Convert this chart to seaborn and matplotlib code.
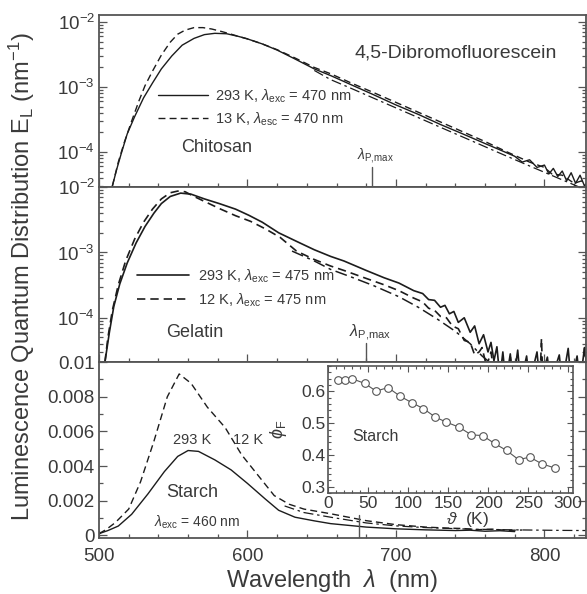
import numpy as np
import matplotlib
matplotlib.use("Agg")
import matplotlib.pyplot as plt
import matplotlib.ticker as mticker
import seaborn as sns

# ---------------- data ----------------
# Chitosan (log panel, top)
chit_293_wl = [509, 512, 515, 519, 524, 530, 536, 542, 549, 556, 564, 571, 578, 586, 594, 600,
               610, 620, 632, 645, 656, 670, 685, 700, 715, 730, 745, 760, 770, 780, 785, 790,
               795, 800, 803, 806, 809, 812, 815, 818, 821, 824, 827, 830]
chit_293_E = [3.0e-5, 5.5e-5, 9.5e-5, 1.9e-4, 3.5e-4, 6.8e-4, 1.15e-3, 1.9e-3, 3.0e-3, 4.4e-3,
              5.6e-3, 6.4e-3, 6.7e-3, 6.6e-3, 6.0e-3, 5.5e-3, 4.6e-3, 3.7e-3, 2.7e-3, 1.9e-3,
              1.5e-3, 1.08e-3, 7.6e-4, 5.3e-4, 3.8e-4, 2.65e-4, 1.9e-4, 1.35e-4, 1.08e-4, 8.6e-5,
              7.0e-5, 7.6e-5, 5.8e-5, 6.3e-5, 4.6e-5, 5.6e-5, 4.2e-5, 5.1e-5, 3.6e-5, 4.8e-5,
              3.3e-5, 4.4e-5, 3.0e-5, 3.8e-5]
chit_13_wl = [509, 513, 517, 522, 527, 531, 536, 542, 548, 553, 558, 564, 570, 576, 582, 588,
              594, 600, 610, 620, 632, 645, 656, 670, 685, 700, 715, 730, 745, 760, 775, 790,
              800, 805, 812, 820, 825, 830]
chit_13_E = [3.0e-5, 7.0e-5, 1.4e-4, 3.0e-4, 6.2e-4, 1.05e-3, 1.75e-3, 3.1e-3, 4.9e-3, 6.5e-3,
             7.5e-3, 8.2e-3, 8.2e-3, 7.8e-3, 7.2e-3, 6.6e-3, 6.0e-3, 5.5e-3, 4.6e-3, 3.75e-3,
             2.8e-3, 2.0e-3, 1.6e-3, 1.15e-3, 8.2e-4, 5.8e-4, 4.1e-4, 2.9e-4, 2.05e-4, 1.45e-4,
             1.0e-4, 7.0e-5, 5.8e-5, 4.6e-5, 4.4e-5, 3.3e-5, 3.6e-5, 2.8e-5]
chit_fit_wl = [645, 656, 670, 690, 710, 730, 750, 770, 790, 810, 830]
chit_fit_E = [1.8e-3, 1.3e-3, 9.5e-4, 6.0e-4, 3.8e-4, 2.4e-4, 1.52e-4, 9.6e-5, 6.1e-5, 3.9e-5, 2.5e-5]

# Gelatin (log panel, middle)
gel_293_wl = [504, 507, 510, 514, 519, 525, 531, 537, 542, 548, 555, 562, 571, 581, 592, 601,
              610, 621, 633, 645, 656, 665, 680, 692, 702, 712, 718, 722, 726, 730, 733, 736,
              739, 742, 746, 750, 753, 756, 759, 762, 764, 766, 768, 770, 772, 774, 777, 779,
              782, 784, 788, 790, 795, 797, 802, 804, 810, 812, 816, 818, 822, 824, 827, 829]
gel_293_E = [2.1e-5, 6.0e-5, 1.5e-4, 3.3e-4, 6.9e-4, 1.4e-3, 2.5e-3, 4.0e-3, 5.6e-3, 7.2e-3,
             8.1e-3, 7.8e-3, 6.6e-3, 5.6e-3, 4.6e-3, 3.7e-3, 2.9e-3, 2.0e-3, 1.48e-3, 1.1e-3,
             8.7e-4, 7.4e-4, 5.3e-4, 4.1e-4, 3.4e-4, 2.6e-4, 2.35e-4, 1.9e-4, 1.85e-4, 1.45e-4,
             1.55e-4, 1.15e-4, 1.25e-4, 8.5e-5, 1.0e-4, 6.0e-5, 7.5e-5, 4.0e-5, 5.5e-5, 3.0e-5,
             4.2e-5, 2.2e-5, 3.6e-5, 1.2e-5, 3.0e-5, 1.0e-5, 2.8e-5, 1.0e-5, 3.2e-5, 1.0e-5,
             2.6e-5, 1.0e-5, 3.0e-5, 1.0e-5, 2.5e-5, 1.0e-5, 2.7e-5, 1.0e-5, 3.4e-5, 1.0e-5,
             2.6e-5, 1.0e-5, 3.5e-5, 1.5e-5]
gel_12_wl = [504, 506, 509, 513, 518, 524, 530, 536, 542, 548, 553, 558, 564, 572, 582, 592,
             602, 612, 622, 633, 645, 656, 665, 680, 692, 702, 712, 718, 722, 726, 730, 734,
             738, 742, 746, 750, 753, 756, 758, 761, 764, 767, 775, 777, 779, 797, 798, 799,
             826, 827, 829]
gel_12_E = [2.1e-5, 5.0e-5, 1.3e-4, 3.2e-4, 7.5e-4, 1.6e-3, 2.9e-3, 4.6e-3, 6.6e-3, 8.2e-3,
            8.7e-3, 8.5e-3, 7.2e-3, 5.9e-3, 4.6e-3, 3.65e-3, 3.0e-3, 2.3e-3, 1.7e-3, 1.05e-3,
            7.8e-4, 6.2e-4, 5.3e-4, 4.0e-4, 3.2e-4, 2.6e-4, 2.0e-4, 1.75e-4, 1.4e-4, 1.3e-4,
            1.05e-4, 1.0e-4, 7.5e-5, 6.8e-5, 4.5e-5, 4.2e-5, 2.7e-5, 3.0e-5, 3.5e-5, 1.8e-5,
            3.0e-5, 1.0e-5, 1.0e-5, 2.5e-5, 1.0e-5, 1.0e-5, 4.8e-5, 1.0e-5, 1.0e-5, 3.8e-5,
            1.0e-5]
gel_fit_wl = [630, 645, 656, 670, 685, 702, 715, 728, 740, 750, 758, 764]
gel_fit_E = [1.05e-3, 7.4e-4, 5.5e-4, 4.2e-4, 3.1e-4, 2.1e-4, 1.45e-4, 9.5e-5, 6.2e-5, 4.0e-5,
             2.6e-5, 2.0e-5]

# Starch (linear panel, bottom)
st_293_wl = [500, 506, 513, 522, 533, 544, 553, 560, 567, 578, 589, 600, 612, 621, 632, 645,
             656, 680, 700, 720, 740, 750, 760, 770, 780]
st_293_E = [0.0001, 0.00028, 0.00054, 0.00122, 0.0024, 0.00368, 0.00456, 0.0049, 0.00485,
            0.00436, 0.00378, 0.0030, 0.0021, 0.00145, 0.00105, 0.00084, 0.00068, 0.00048,
            0.00038, 0.00032, 0.00028, 0.00030, 0.00024, 0.00027, 0.00022]
st_12_wl = [500, 505, 511, 520, 528, 537, 546, 554, 562, 573, 585, 596, 607, 618, 628, 638,
            656, 680, 700, 720, 735, 745, 755, 765, 775, 785]
st_12_E = [0.0001, 0.00035, 0.00074, 0.00152, 0.0031, 0.00544, 0.0080, 0.00932, 0.00878,
           0.0074, 0.00622, 0.00466, 0.00348, 0.0023, 0.0018, 0.00152, 0.00125, 0.00085,
           0.00062, 0.00048, 0.00042, 0.00040, 0.00033, 0.00036, 0.00029, 0.00031]
st_fit_wl = [625, 638, 656, 680, 700, 720, 750, 780, 810, 830]
st_fit_E = [0.0017, 0.00132, 0.00105, 0.00072, 0.00055, 0.00045, 0.00036, 0.00032, 0.00029, 0.00028]

# inset: fluorescence quantum yield of starch film vs temperature
inset_T = [13, 21, 30, 46, 60, 75, 90, 105, 119, 134, 148, 164, 179, 193, 208, 223, 238, 252,
           267, 283]
inset_phi = [0.636, 0.635, 0.640, 0.625, 0.601, 0.612, 0.585, 0.564, 0.546, 0.519, 0.503,
             0.487, 0.463, 0.461, 0.436, 0.414, 0.385, 0.393, 0.372, 0.359]

# positions of the phosphorescence maximum markers (nm)
lam_p_max = [684, 680, 675]

# ---------------- style ----------------
sns.set_theme(style="ticks")
plt.rcParams["font.family"] = ["Liberation Sans", "DejaVu Sans"]
plt.rcParams["mathtext.fontset"] = "custom"
plt.rcParams["mathtext.rm"] = "Liberation Sans"
plt.rcParams["mathtext.it"] = "Liberation Sans:italic"
plt.rcParams["mathtext.bf"] = "Liberation Sans:bold"

TXT = "#3a3a3a"
LN = "#1c1c1c"
SP = "#555555"
plt.rcParams["text.color"] = TXT
plt.rcParams["axes.labelcolor"] = TXT
plt.rcParams["xtick.color"] = SP
plt.rcParams["ytick.color"] = SP
plt.rcParams["xtick.labelcolor"] = TXT
plt.rcParams["ytick.labelcolor"] = TXT

W, H = 587, 594
fig = plt.figure(figsize=(W / 100, H / 100), dpi=100)
x0, x1 = 99, 586
ax1 = fig.add_axes([x0 / W, 1 - 187 / H, (x1 - x0) / W, 172 / H])
ax2 = fig.add_axes([x0 / W, 1 - 362 / H, (x1 - x0) / W, 175 / H])
ax3 = fig.add_axes([x0 / W, 1 - 538 / H, (x1 - x0) / W, 176 / H])
axin = fig.add_axes([328 / W, 1 - 493 / H, 245 / W, 127 / H])

DASH = (5, 3)
DASHDOT = (8, 3, 2, 3)


def spectra(ax, wl_a, E_a, lab_a, wl_b, E_b, lab_b, wl_c, E_c, lw=1.0):
    sns.lineplot(x=wl_a, y=E_a, ax=ax, color=LN, lw=lw, label=lab_a, sort=False)
    sns.lineplot(x=wl_b, y=E_b, ax=ax, color=LN, lw=lw, label=lab_b, sort=False,
                 dashes=False).lines[-1].set_dashes(DASH)
    sns.lineplot(x=wl_c, y=E_c, ax=ax, color=LN, lw=lw * 0.9, sort=False).lines[-1].set_dashes(DASHDOT)


def style_axis(ax):
    for s in ax.spines.values():
        s.set_color(SP)
        s.set_linewidth(1.3)
    ax.tick_params(which="both", direction="in", right=True, top=False, width=0.9,
                   labelsize=13.5, pad=3)
    ax.tick_params(which="major", length=6)
    ax.tick_params(which="minor", length=3)
    ax.set_xlim(500, 828)
    ax.xaxis.set_major_locator(mticker.MultipleLocator(100))
    ax.xaxis.set_minor_locator(mticker.MultipleLocator(20))
    ax.set_xlabel("")
    ax.set_ylabel("")


PMAX = r"$\lambda_{\rm P{,}max}$"

# top: chitosan
spectra(ax1, chit_293_wl, chit_293_E, r"293 K, $\lambda_{\rm exc}$ = 470 nm",
        chit_13_wl, chit_13_E, r"13 K, $\lambda_{\rm esc}$ = 470 nm", chit_fit_wl, chit_fit_E)
ax1.set_yscale("log")
ax1.set_ylim(10 ** -4.538, 10 ** -1.892)
style_axis(ax1)
ax1.tick_params(labelbottom=False)
ax1.legend(loc="center left", bbox_to_anchor=(0.121, 0.462), frameon=False, fontsize=10.5,
           handlelength=3.4, handletextpad=0.5, labelspacing=0.4, borderpad=0, borderaxespad=0)
ax1.text(0.733, 0.779, "4,5-Dibromofluorescein", transform=ax1.transAxes, ha="center",
         va="center", fontsize=14)
ax1.text(0.242, 0.227, "Chitosan", transform=ax1.transAxes, ha="center", va="center", fontsize=13)
ax1.axvline(lam_p_max[0], ymin=0, ymax=0.116, color=SP, lw=1)
ax1.text(0.567, 0.186, PMAX, transform=ax1.transAxes, ha="center", va="center", fontsize=10)

# middle: gelatin
spectra(ax2, gel_293_wl, gel_293_E, r"293 K, $\lambda_{\rm exc}$ = 475 nm",
        gel_12_wl, gel_12_E, r"12 K, $\lambda_{\rm exc}$ = 475 nm", gel_fit_wl, gel_fit_E, lw=1.2)
ax2.set_yscale("log")
ax2.set_ylim(10 ** -4.677, 10 ** -1.998)
style_axis(ax2)
ax2.tick_params(labelbottom=False)
ax2.legend(loc="center left", bbox_to_anchor=(0.078, 0.423), frameon=False, fontsize=10.5,
           handlelength=3.6, handletextpad=0.6, labelspacing=0.45, borderpad=0, borderaxespad=0)
ax2.text(0.197, 0.171, "Gelatin", transform=ax2.transAxes, ha="center", va="center", fontsize=13)
ax2.axvline(lam_p_max[1], ymin=0, ymax=0.109, color=SP, lw=1)
ax2.text(0.556, 0.166, PMAX, transform=ax2.transAxes, ha="center", va="center", fontsize=11.5)

# bottom: starch (linear)
sns.lineplot(x=st_293_wl, y=st_293_E, ax=ax3, color=LN, lw=1.0, sort=False)
sns.lineplot(x=st_12_wl, y=st_12_E, ax=ax3, color=LN, lw=1.0, sort=False).lines[-1].set_dashes(DASH)
sns.lineplot(x=st_fit_wl, y=st_fit_E, ax=ax3, color=LN, lw=0.9, sort=False).lines[-1].set_dashes(DASHDOT)
ax3.set_ylim(-0.00015, 0.01001)
style_axis(ax3)
ax3.tick_params(axis="x", pad=7)
ax3.yaxis.set_major_locator(mticker.MultipleLocator(0.002))
ax3.yaxis.set_minor_locator(mticker.MultipleLocator(0.001))
ax3.yaxis.set_major_formatter(mticker.FuncFormatter(lambda v, p: f"{v:g}" if abs(v) > 1e-9 else "0"))
ax3.axvline(lam_p_max[2], ymin=0, ymax=0.13, color=SP, lw=1)
ax3.text(0.191, 0.261, "Starch", transform=ax3.transAxes, ha="center", va="center", fontsize=13)
ax3.text(0.201, 0.091, r"$\lambda_{\rm exc}$ = 460 nm", transform=ax3.transAxes, ha="center",
         va="center", fontsize=10)
ax3.text(0.191, 0.557, "293 K", transform=ax3.transAxes, ha="center", va="center", fontsize=10.5)
ax3.text(0.306, 0.557, "12 K", transform=ax3.transAxes, ha="center", va="center", fontsize=10.5)

# inset
sns.lineplot(x=inset_T, y=inset_phi, ax=axin, color="#555555", lw=0.8, marker="o",
             markersize=5.5, markerfacecolor="white", markeredgecolor="#555555",
             markeredgewidth=0.8, sort=False)
axin.set_xlim(0, 306)
axin.set_ylim(0.28, 0.68)
for s in axin.spines.values():
    s.set_color(SP)
    s.set_linewidth(1.2)
axin.xaxis.set_major_locator(mticker.MultipleLocator(50))
axin.xaxis.set_minor_locator(mticker.MultipleLocator(10))
axin.yaxis.set_major_locator(mticker.MultipleLocator(0.1))
axin.yaxis.set_minor_locator(mticker.MultipleLocator(0.02))
axin.yaxis.set_major_formatter(mticker.FormatStrFormatter("%.1f"))
axin.tick_params(which="both", direction="in", top=True, right=True, width=0.8,
                 labelsize=12.5, pad=2)
axin.tick_params(which="major", length=4.5)
axin.tick_params(which="minor", length=2.5)
axin.set_xlabel(r"$\vartheta$  (K)", fontsize=12.5)
axin.xaxis.set_label_coords(0.57, -0.13)
axin.set_ylabel(r"$\phi_{\rm F}$", fontsize=13)
axin.yaxis.set_label_coords(-0.16, 0.5)
axin.text(0.192, 0.441, "Starch", transform=axin.transAxes, ha="center", va="center",
          fontsize=11.5)

fig.text(0.037, 0.534, r"Luminescence Quantum Distribution E$_{\rm L}$ (nm$^{-1}$)",
         rotation=90, ha="center", va="center", fontsize=17)
fig.text(332 / W, 1 - 580 / H, r"Wavelength  $\lambda$  (nm)", ha="center", va="center",
         fontsize=17)

fig.savefig("out.png", dpi=100)
